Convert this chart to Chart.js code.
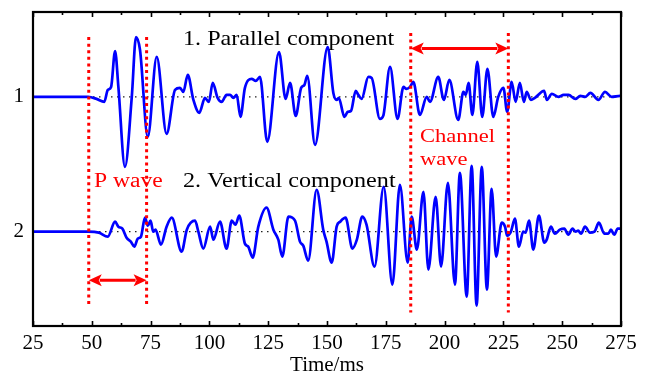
<!DOCTYPE html>
<html>
<head>
<meta charset="utf-8">
<script src="https://cdn.jsdelivr.net/npm/chart.js@4.4.1/dist/chart.umd.min.js"></script>
<style>
  html, body { margin: 0; padding: 0; background: #fff; }
  #wrap { width: 646px; height: 375px; }
</style>
</head>
<body>
<div id="wrap"><canvas id="waveChart" width="646" height="375"></canvas></div>
<script>
// time (ms) and amplitude (trace spacing = 135 counts)
const parallelTime = [25, 48.5, 52, 55.3, 56.8, 58.2, 59.9, 61.3, 64.1, 67, 68.8, 70.5, 73.8, 77.6, 81.8, 85.4, 87.5, 88.9, 90.8, 93.2, 95.7, 98.1, 99.8, 101.4, 103.5, 105.2, 107.3, 108.8, 110.2, 111.6, 113.2, 115.1, 118, 119.7, 121.5, 124.6, 129.6, 132.4, 134.3, 136.7, 139, 140.4, 141.6, 144.9, 150.3, 152.7, 154.1, 155, 157.4, 158.8, 160.2, 162.2, 163.3, 164.7, 167.6, 169, 172.5, 173.9, 176.8, 180, 182.5, 183.8, 185.3, 186.7, 189.5, 192.4, 193.8, 197.3, 199.7, 202, 205.8, 208, 209, 210.2, 211.8, 213.9, 216, 218.2, 220.7, 222.8, 225, 226.6, 228.5, 230.2, 232, 233.7, 234.9, 236.7, 238.4, 242.3, 243.5, 245.6, 248.4, 250.6, 252.7, 255.6, 257.7, 259.8, 262, 265.4, 268.2, 271, 274.6, 275];
const parallelAmp = [0, 0, -2, -5, 7, 10, 46, 10, -70, 0, 60, 47, -40, 40, -37, 7, 9, 5, 22, -3, -16, -1, -5, 14, -1, -5, 2, 2, -1, 2, -20, 9, 18, 16, 20, -45, 45, -2, 14, -19, 9, 12, 21, -48, 50, 4, -3, -1, -20, -15, -14, 6, 2, -2, 20, 19, -22, -19, 30, -22, 10, 8, 10, 15, -18, 0, -5, 20, -3, 17, -23, 5, 2, 14, -18, 35, -20, 28, -20, 0, 9, -15, 15, -5, 14, -5, 5, -3, -1, 6, -3, 3, 0, 2, 2, -2, 1, 0, 4, -3, 5, 0, 1, 1];

const verticalTime = [25, 48.5, 53, 56.8, 59.9, 61.3, 63, 64.8, 66.6, 68.1, 69.5, 70.9, 72.6, 73.8, 75, 76.1, 77.1, 79.4, 81.8, 84, 88.2, 90.4, 93.9, 95.3, 97.4, 100.3, 101.7, 104.5, 107.3, 109.5, 111.1, 112.7, 115.1, 116.5, 118.4, 120.8, 124.3, 127.2, 129.3, 131, 133.6, 136.4, 138.5, 139.9, 142, 145.6, 148.4, 149.8, 152, 154.1, 155.6, 157.9, 160.8, 162.7, 165, 166.8, 170.2, 174.1, 177.8, 181, 184.3, 186, 188.2, 191, 193.1, 196.2, 198.5, 201.4, 204.4, 206.5, 209.4, 211.5, 213.6, 215.8, 218, 220, 221.9, 224.3, 225.7, 226.6, 228.2, 229.9, 231.6, 233.4, 234.4, 235.9, 237.7, 240.1, 242.4, 243.4, 245.2, 246.9, 249, 250.9, 252.6, 254.4, 255.7, 256.8, 258, 259.7, 261.8, 263.7, 265.6, 267.9, 269.6, 270.7, 272.1, 273.6, 275];
const verticalAmp = [0, 0, -1, -5, 10, 5, 3, -6, -10, -15, -7, -5, 14, 6, 11, 0, 2, -13, 5, 14, -20, 2, 11, 0, -17, 5, -8, 10, -17, 11, 7, 16, -12, -15, -26, 5, 24, 2, -8, -25, 15, 11, -10, -14, -29, 42, 2, -10, -31, 5, 10, 14, -17, -8, 15, 7, -35, 45, -53, 47, -31, 15, -18, 40, -38, 35, -35, 49, -53, 59, -65, 66, -74, 65, -58, 43, -25, 9, 5, -4, 0, 13, -15, 0, -1, 11, -18, 16, -11, -8, 5, -2, 2, 3, -3, 3, 0, 1, -2, 5, -1, 0, 9, -2, -2, 2, -3, 3, 3];

const traceOffsets = [1, 2];
const xTicks = [25, 50, 75, 100, 125, 150, 175, 200, 225, 250, 275];
const pWave = [48.7, 73.3];
const channelWave = [185.6, 227.1];

const GAIN = 1 / 135;
const BLUE = '#0000ff';
const RED = '#ff0000';
const SERIF = '"Liberation Serif", "Times New Roman", serif';

function trace(times, amps, offset) {
  return times.map((t, i) => ({ x: t, y: offset - amps[i] * GAIN }));
}

function vline(x, y0, y1) {
  return {
    data: [{ x: x, y: y0 }, { x: x, y: y1 }],
    borderColor: RED, borderWidth: 3, borderDash: [3, 3.6],
    pointRadius: 0, order: 0, tension: 0
  };
}

function baseline(y) {
  return {
    data: [{ x: 25, y: y }, { x: 275, y: y }],
    borderColor: '#222', borderWidth: 1.2, borderDash: [1.5, 4.5],
    pointRadius: 0, order: 2, tension: 0
  };
}

// frame, inward ticks, arrows and annotations
const overlay = {
  id: 'overlay',
  afterDatasetsDraw(chart) {
    const ctx = chart.ctx;
    const a = chart.chartArea;
    const xs = chart.scales.x, ys = chart.scales.y;
    ctx.save();

    ctx.strokeStyle = '#000';
    ctx.lineWidth = 1.6;
    for (let v = 25; v <= 275; v += 12.5) {
      const px = Math.round(xs.getPixelForValue(v)) + 0.5;
      const len = (v % 25 === 0) ? 5 : 3;
      ctx.beginPath();
      ctx.moveTo(px, a.bottom); ctx.lineTo(px, a.bottom - len);
      ctx.moveTo(px, a.top); ctx.lineTo(px, a.top + len);
      ctx.stroke();
    }
    ctx.lineWidth = 2.2;
    ctx.strokeRect(a.left, a.top, a.right - a.left, a.bottom - a.top);

    function arrow(x0, x1, yv) {
      const p0 = xs.getPixelForValue(x0), p1 = xs.getPixelForValue(x1);
      const py = ys.getPixelForValue(yv);
      const hl = 13, hw = 6;
      ctx.strokeStyle = RED; ctx.fillStyle = RED; ctx.lineWidth = 3;
      ctx.beginPath(); ctx.moveTo(p0 + hl - 2, py); ctx.lineTo(p1 - hl + 2, py); ctx.stroke();
      ctx.beginPath(); ctx.moveTo(p0, py); ctx.lineTo(p0 + hl, py - hw); ctx.lineTo(p0 + hl - 3, py); ctx.lineTo(p0 + hl, py + hw); ctx.closePath(); ctx.fill();
      ctx.beginPath(); ctx.moveTo(p1, py); ctx.lineTo(p1 - hl, py - hw); ctx.lineTo(p1 - hl + 3, py); ctx.lineTo(p1 - hl, py + hw); ctx.closePath(); ctx.fill();
    }
    arrow(pWave[0], pWave[1], 2.36);
    arrow(channelWave[0], channelWave[1], 0.64);

    function label(text, x, y, size, color) {
      ctx.save();
      ctx.translate(x, y);
      ctx.scale(1.15, 1);
      ctx.font = size + 'px ' + SERIF;
      ctx.fillStyle = color;
      ctx.textBaseline = 'alphabetic';
      ctx.textAlign = 'left';
      ctx.fillText(text, 0, 0);
      ctx.restore();
    }
    label('1. Parallel component', 183, 45, 21, '#000');
    label('2. Vertical component', 183, 187, 21, '#000');
    label('P wave', 94, 187, 20.5, RED);
    label('Channel', 420, 142, 19.6, RED);
    label('wave', 420, 165, 19.6, RED);

    ctx.restore();
  }
};

const ctx = document.getElementById('waveChart').getContext('2d');

new Chart(ctx, {
  type: 'line',
  data: {
    datasets: [
      vline(pWave[0], 0.556, 2.556),
      vline(pWave[1], 0.556, 2.556),
      vline(channelWave[0], 0.526, 2.6),
      vline(channelWave[1], 0.526, 2.6),
      {
        data: trace(parallelTime, parallelAmp, traceOffsets[0]),
        borderColor: BLUE, borderWidth: 2.7, pointRadius: 0,
        cubicInterpolationMode: 'monotone', order: 1
      },
      {
        data: trace(verticalTime, verticalAmp, traceOffsets[1]),
        borderColor: BLUE, borderWidth: 2.7, pointRadius: 0,
        cubicInterpolationMode: 'monotone', order: 1
      },
      baseline(traceOffsets[0]),
      baseline(traceOffsets[1])
    ]
  },
  options: {
    responsive: false,
    animation: false,
    layout: { padding: { top: 12, right: 25, left: 0, bottom: 0 } },
    plugins: {
      legend: { display: false },
      tooltip: { enabled: false }
    },
    scales: {
      x: {
        type: 'linear',
        min: 25,
        max: 275,
        grid: { display: false, drawTicks: false },
        border: { display: false },
        afterBuildTicks: (axis) => { axis.ticks = xTicks.map(v => ({ value: v })); },
        afterFit: (axis) => { axis.height = 49; },
        ticks: {
          color: '#000',
          padding: 5,
          maxRotation: 0,
          font: { family: SERIF, size: 21 }
        },
        title: {
          display: true,
          text: 'Time/ms',
          color: '#000',
          padding: { top: 0, bottom: -3 },
          font: { family: SERIF, size: 21 }
        }
      },
      y: {
        type: 'linear',
        reverse: true,
        min: 0.37,
        max: 2.70,
        grid: { display: false, drawTicks: false },
        border: { display: false },
        afterBuildTicks: (axis) => { axis.ticks = traceOffsets.map(v => ({ value: v })); },
        afterFit: (axis) => { axis.width = 33; axis.paddingTop = 0; axis.paddingBottom = 0; },
        ticks: {
          color: '#000',
          padding: 9,
          font: { family: SERIF, size: 21 }
        }
      }
    }
  },
  plugins: [overlay]
});
</script>
</body>
</html>
